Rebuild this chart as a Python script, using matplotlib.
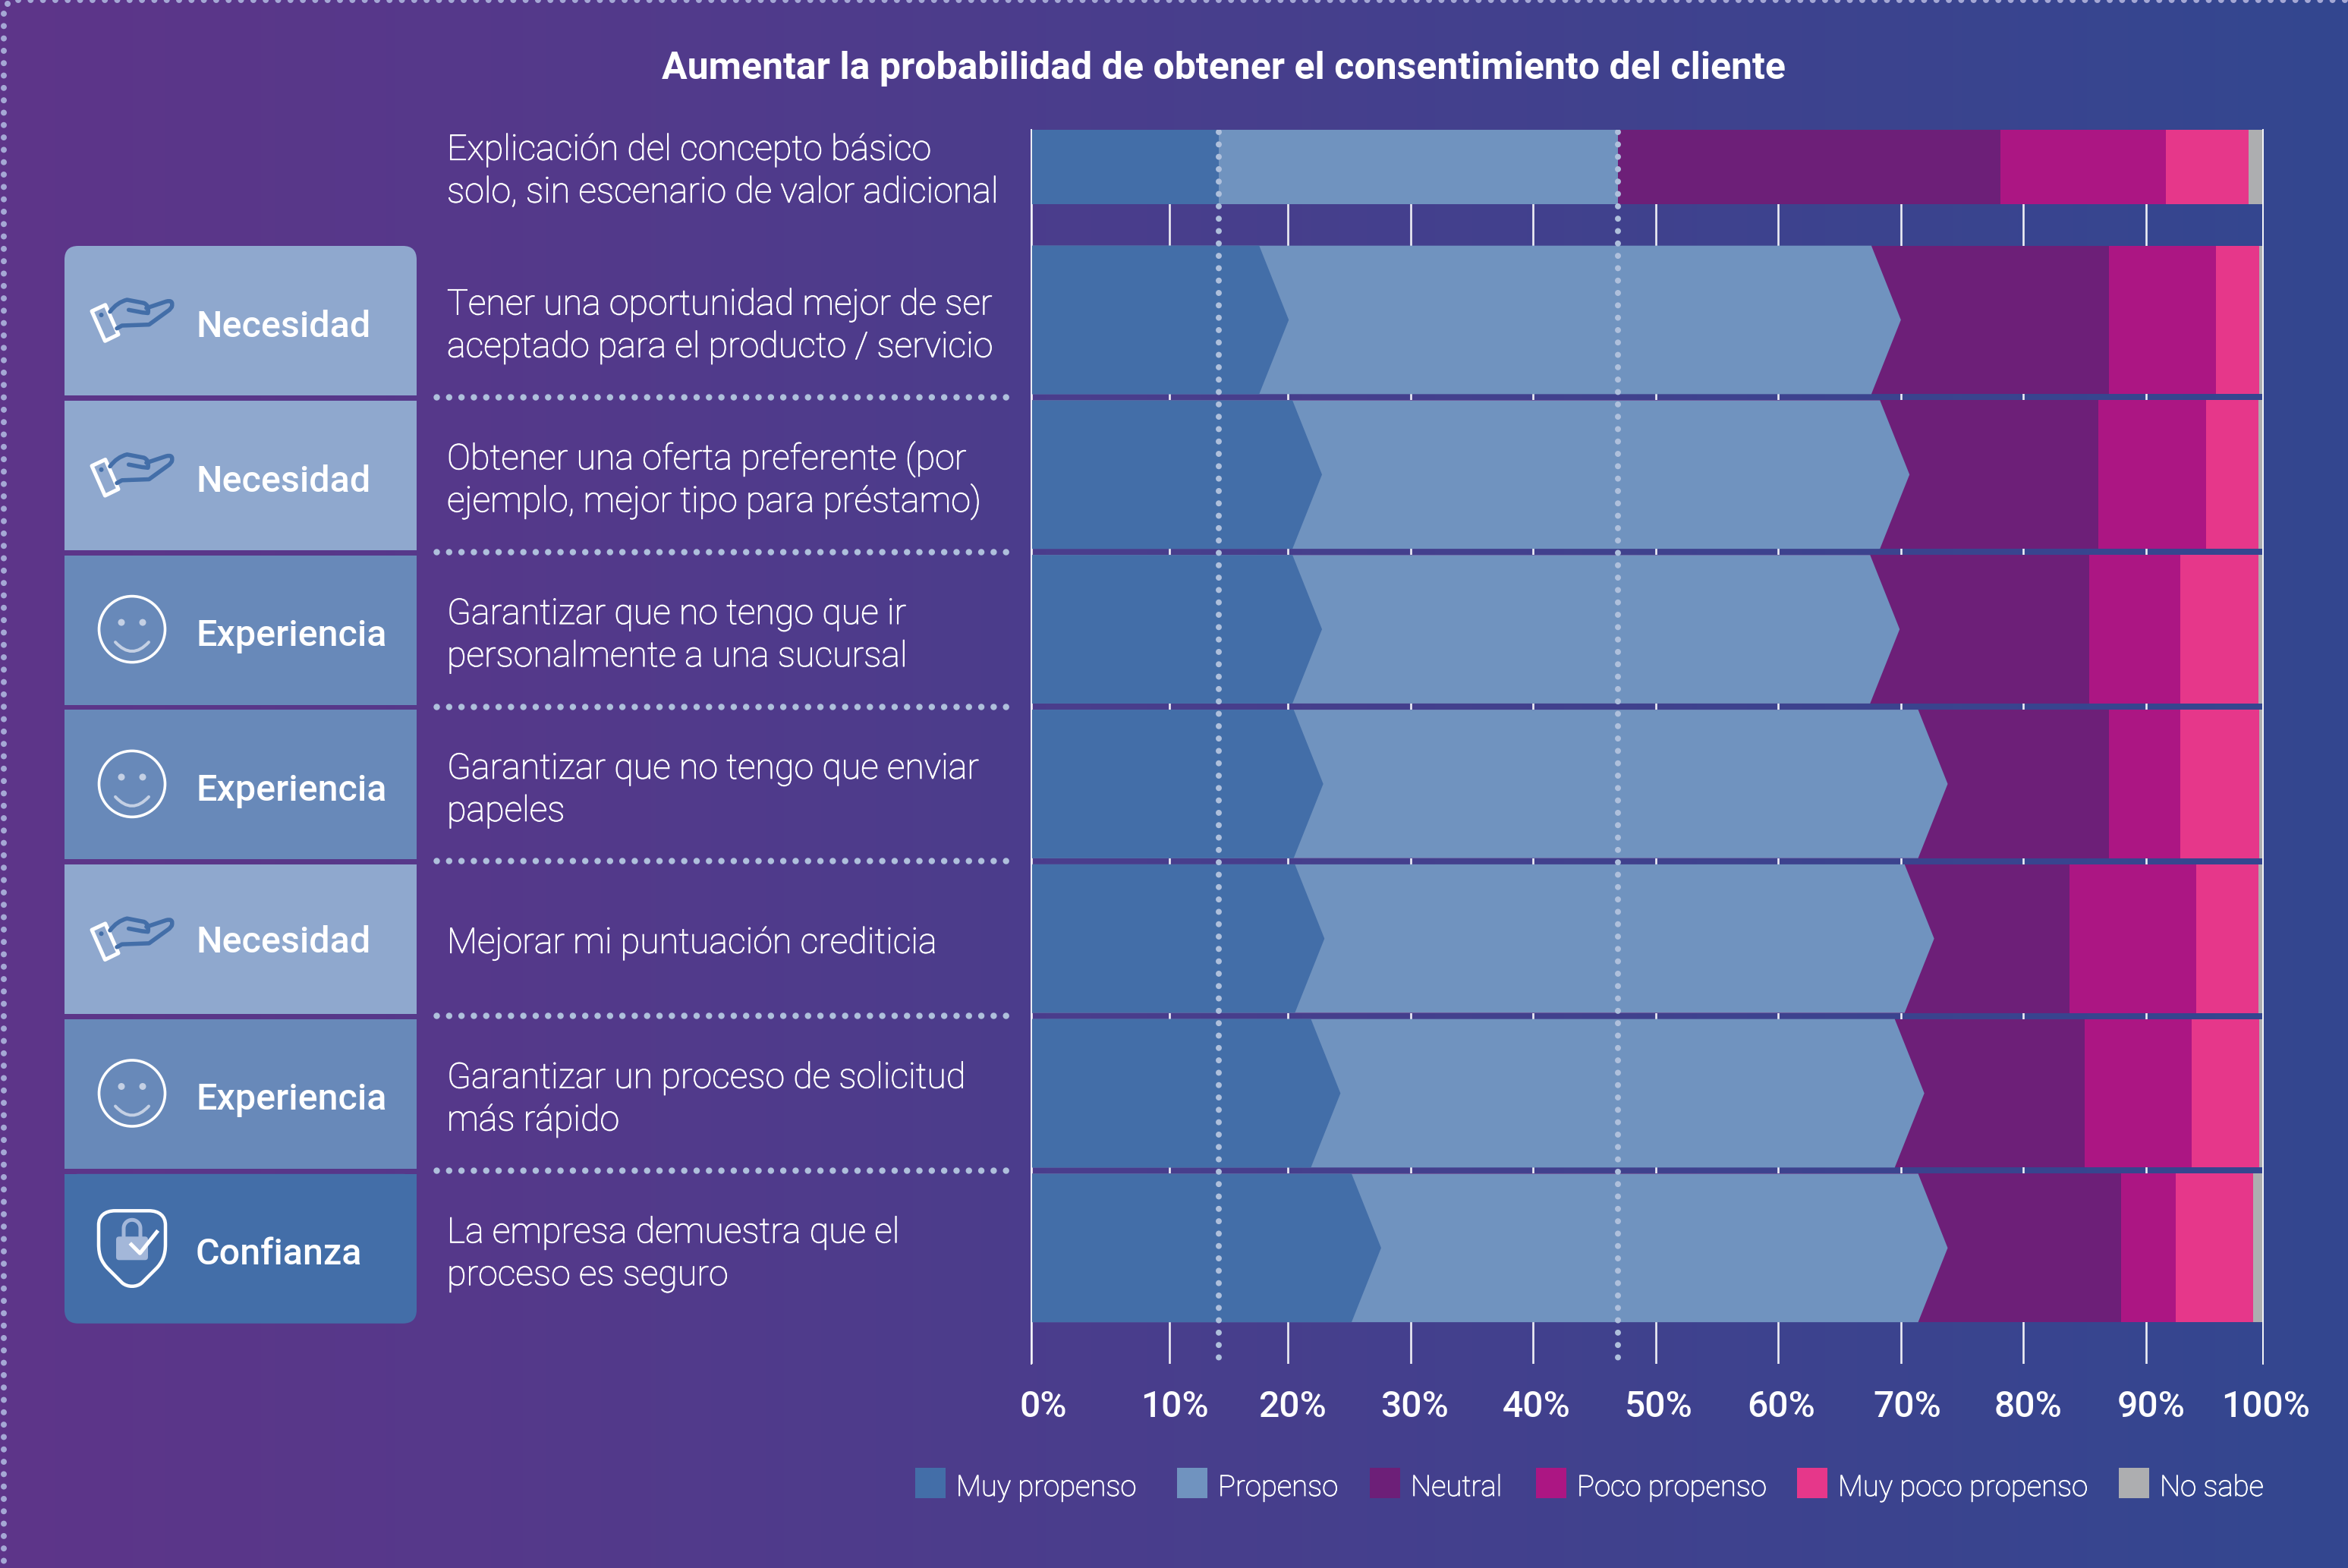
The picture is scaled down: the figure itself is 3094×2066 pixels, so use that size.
import numpy as np
import matplotlib
matplotlib.use('Agg')
import matplotlib.pyplot as plt
import matplotlib.patheffects as pe
from matplotlib.patches import Rectangle, FancyBboxPatch, Circle, Polygon, PathPatch
from matplotlib.path import Path
from matplotlib.transforms import ScaledTranslation

TITLE = "Aumentar la probabilidad de obtener el consentimiento del cliente"

row_labels = [
    "Explicación del concepto básico\nsolo, sin escenario de valor adicional",
    "Tener una oportunidad mejor de ser\naceptado para el producto / servicio",
    "Obtener una oferta preferente (por\nejemplo, mejor tipo para préstamo)",
    "Garantizar que no tengo que ir\npersonalmente a una sucursal",
    "Garantizar que no tengo que enviar\npapeles",
    "Mejorar mi puntuación crediticia",
    "Garantizar un proceso de solicitud\nmás rápido",
    "La empresa demuestra que el\nproceso es seguro",
]
row_groups = [None, "Necesidad", "Necesidad", "Experiencia", "Experiencia",
              "Necesidad", "Experiencia", "Confianza"]

muy_propenso = [15.2, 18.5, 21.2, 21.2, 21.3, 21.4, 22.7, 26.0]
propenso = [32.4, 49.7, 47.7, 46.9, 50.7, 49.5, 47.4, 46.0]
neutral = [31.1, 19.3, 17.7, 17.8, 15.5, 13.4, 15.4, 16.5]
poco_propenso = [13.4, 8.7, 8.8, 7.4, 5.8, 10.3, 8.7, 4.4]
muy_poco_propenso = [6.7, 3.5, 4.2, 6.3, 6.4, 5.0, 5.5, 6.3]
no_sabe = [1.2, 0.4, 0.4, 0.4, 0.3, 0.4, 0.4, 0.9]

series_names = ["Muy propenso", "Propenso", "Neutral", "Poco propenso",
                "Muy poco propenso", "No sabe"]
series_colors = ["#436EA8", "#7093BF", "#6D1F78", "#AC1683", "#E6378A", "#ADAEB0"]

# the axis marks are not evenly spaced along the bars
tick_positions = [0, 11.2, 20.8, 30.8, 40.7, 50.7, 60.6, 70.6, 80.5, 90.5, 100]
tick_labels = ["0%", "10%", "20%", "30%", "40%", "50%", "60%", "70%", "80%", "90%", "100%"]
tick_nudge_px = [16, 7, 6, 5, 5, 4, 5, 8, 7, 7, 4]

group_colors = {"Necesidad": "#8FA8CE", "Experiencia": "#6889B9", "Confianza": "#436EA8"}
# small per-row shift of the group names
group_text_nudge = [0, 2, 3, 2, 2, -2, 1, 2]

W, H = 3094, 2066
DPI = 100
PX = 72 / DPI  # points per pixel

AXIS_LEFT, AXIS_RIGHT = 1359, 2982
AXIS_TOP, AXIS_BOTTOM = 171, 1797
ROW0_Y, ROW_PITCH = 217.7, 203.8
CHEVRON = 2.4  # tip length in axis percent

TEXT_FONT = ['Roboto', 'DejaVu Sans']
DOT = "#AFC0DC"
# light weight needs a little body to stay legible on the dark ground
BODY = [pe.withStroke(linewidth=0.9 * PX, foreground='white')]


def row_y(i):
    return ROW0_Y + i * ROW_PITCH


def dotted(ax, xs, ys, color=DOT, size=8, pitch=16.3, zorder=5):
    lw = size * PX
    ax.plot(xs, ys, color=color, lw=lw, linestyle=(0, (0.001, pitch / size)),
            dash_capstyle='round', zorder=zorder, scalex=False, scaley=False)


def draw_hand(ax, cy):
    y = lambda v: cy + v
    card = [(121, y(-11.5)), (138.8, y(-19.8)), (156, y(19.2)), (138.4, y(27.8))]
    ax.add_patch(Polygon(card, closed=True, fill=False, ec='white', lw=5 * PX, joinstyle='round', zorder=3))
    ax.add_patch(Circle((133.5, y(-6.5)), 3, fc='#436EA8', ec='none', zorder=3))
    finger = Path([(145, y(-10.8)), (154, y(-23.2)), (167.4, y(-26.5)), (189.7, y(-22.2)),
                   (197, y(-19)), (195, y(-9)), (187.5, y(-9.8)), (169.6, y(-13.2))],
                  [Path.MOVETO, Path.CURVE3, Path.CURVE3, Path.LINETO,
                   Path.CURVE3, Path.CURVE3, Path.LINETO, Path.LINETO])
    palm = Path([(192.9, y(-15.5)), (218.8, y(-24.2)), (229, y(-27)), (226.3, y(-17)), (223.2, y(-13.2)),
                 (196.4, y(6.2)), (160.7, y(7.5)), (154, y(11.2))],
                [Path.MOVETO, Path.LINETO, Path.CURVE3, Path.CURVE3, Path.LINETO,
                 Path.LINETO, Path.LINETO, Path.LINETO])
    for p in (finger, palm):
        ax.add_patch(PathPatch(p, fill=False, ec='#436EA8', lw=5.5 * PX, capstyle='round', joinstyle='round', zorder=3))


def draw_smile(ax, cy):
    cx = 174
    soft = "#C4D0E4"
    ax.add_patch(Circle((cx, cy), 43.5, fill=False, ec='white', lw=3.6 * PX, zorder=3))
    for dx in (-14, 14):
        ax.add_patch(Circle((cx + dx, cy - 9), 4.5, fc=soft, ec='none', zorder=3))
    mouth = Path([(cx - 22, cy + 17), (cx, cy + 41), (cx + 22, cy + 17)],
                 [Path.MOVETO, Path.CURVE3, Path.CURVE3])
    ax.add_patch(PathPatch(mouth, fill=False, ec=soft, lw=4 * PX, capstyle='round', zorder=3))


def draw_shield(ax, cy):
    cx = 174
    verts = [(22, -49), (36, -49), (44, -42), (44, -30), (44, -5),
             (44, 10), (40, 18), (33, 26), (13, 46),
             (6, 52), (-6, 52), (-13, 46), (-33, 26),
             (-40, 18), (-44, 10), (-44, -5), (-44, -30),
             (-44, -42), (-36, -49), (-22, -49), (22, -49)]
    codes = [Path.MOVETO, Path.CURVE4, Path.CURVE4, Path.CURVE4, Path.LINETO,
             Path.CURVE4, Path.CURVE4, Path.CURVE4, Path.LINETO,
             Path.CURVE4, Path.CURVE4, Path.CURVE4, Path.LINETO,
             Path.CURVE4, Path.CURVE4, Path.CURVE4, Path.LINETO,
             Path.CURVE4, Path.CURVE4, Path.CURVE4, Path.CLOSEPOLY]
    shield = Path([(cx + a, cy + b) for a, b in verts], codes)
    ax.add_patch(PathPatch(shield, fill=False, ec='white', lw=4.5 * PX, joinstyle='round', zorder=3))
    lock = "#A3B7D9"
    ax.add_patch(FancyBboxPatch((cx - 18, cy - 12), 36, 25, boxstyle="round,pad=3,rounding_size=4",
                                fc=lock, ec='none', zorder=3))
    ang = np.radians(np.linspace(180, 360, 30))
    sx = np.r_[cx - 11, cx + 11 * np.cos(ang), cx + 11]
    sy = np.r_[cy - 14, cy - 26 + 11 * np.sin(ang), cy - 14]
    ax.plot(sx, sy, color=lock, lw=5 * PX, zorder=3, scalex=False, scaley=False)
    ax.plot([cx - 1, cx + 10.4, cx + 32.6], [cy - 4.5, cy + 7, cy - 21], color='white',
            lw=5 * PX, zorder=4, scalex=False, scaley=False)


icon_drawers = {"Necesidad": draw_hand, "Experiencia": draw_smile, "Confianza": draw_shield}

fig = plt.figure(figsize=(W / DPI, H / DPI), dpi=DPI)

# page layer, laid out in pixels
page = fig.add_axes([0, 0, 1, 1], zorder=0)
gradient = np.linspace(0, 1, 512)[None, :, None]
left_rgb = np.array([94, 53, 137]) / 255
right_rgb = np.array([51, 71, 144]) / 255
page.imshow(left_rgb + gradient * (right_rgb - left_rgb), extent=(0, W, H, 0), aspect='auto', zorder=0)
page.set_xlim(0, W)
page.set_ylim(H, 0)
page.axis('off')

dotted(page, [5, 5], [18, H], color="#A5A8D5", zorder=1)
dotted(page, [24, W], [0, 0], color="#A5A8D5", zorder=1)
page.add_patch(Circle((10, 5), 4, fc="#A5A8D5", ec='none', zorder=1))

page.text(1612, 104, TITLE, ha='center', va='baseline', color='white', fontsize=50 * PX,
          fontweight='bold', family=TEXT_FONT)

BOX_LEFT, BOX_RIGHT = 85, 549
BOX_H = 197
for i, group in enumerate(row_groups):
    cy = row_y(i)
    lines = row_labels[i].split("\n")
    offsets = [19] if len(lines) == 1 else [-7, 49]
    for line, off in zip(lines, offsets):
        page.text(589, cy + off, line, color='white', fontsize=46.6 * PX, fontweight='light',
                  family=TEXT_FONT, path_effects=BODY)
    if 0 < i < len(row_groups) - 1:
        dotted(page, [575, 1336], [cy + 101.5, cy + 101.5], size=8.5, zorder=2)
    if group is None:
        continue
    top = cy - 97.5
    col = group_colors[group]
    if i == 1 or i == len(row_groups) - 1:
        # outer corners of the column are rounded
        r = 18
        page.add_patch(FancyBboxPatch((BOX_LEFT + r, top + r), BOX_RIGHT - BOX_LEFT - 2 * r, BOX_H - 2 * r,
                                      boxstyle=f"round,pad={r},rounding_size={r}", fc=col, ec='none', zorder=2))
        flat_top = top + BOX_H / 2 if i == 1 else top
        page.add_patch(Rectangle((BOX_LEFT, flat_top), BOX_RIGHT - BOX_LEFT, BOX_H / 2, fc=col, ec='none', zorder=2))
    else:
        page.add_patch(Rectangle((BOX_LEFT, top), BOX_RIGHT - BOX_LEFT, BOX_H, fc=col, ec='none', zorder=2))
    icon_drawers[group](page, cy)
    page.text(258, cy + 20 + group_text_nudge[i], group, color='white', fontsize=48.5 * PX, fontweight='medium',
              family=TEXT_FONT, zorder=4)

# legend row
legend_x = [1206, 1551, 1805, 2024, 2368, 2792]
for x0, name, col in zip(legend_x, series_names, series_colors):
    page.add_patch(Rectangle((x0, 1934), 40, 40, fc=col, ec='none', zorder=2))
    page.text(x0 + 54, 1971, name, color='white', fontsize=38.3 * PX, fontweight='light',
              family=TEXT_FONT, path_effects=BODY)

# stacked bars, on a percent axis
ax = fig.add_axes([AXIS_LEFT / W, 1 - AXIS_BOTTOM / H, (AXIS_RIGHT - AXIS_LEFT) / W, (AXIS_BOTTOM - AXIS_TOP) / H],
                  zorder=1)
ax.patch.set_alpha(0)
ax.set_xlim(0, 100)
ax.set_ylim((AXIS_BOTTOM - ROW0_Y) / ROW_PITCH, (AXIS_TOP - ROW0_Y) / ROW_PITCH)
for s in ax.spines.values():
    s.set_visible(False)
ax.set_yticks([])
ax.set_xticks(tick_positions, tick_labels, fontsize=48 * PX, fontweight='medium', color='white', family=TEXT_FONT)
ax.tick_params(axis='x', length=0, pad=34 * PX)
ax.grid(axis='x', color='white', lw=2.6 * PX, alpha=0.92)
ax.set_axisbelow(True)
for lab, nudge in zip(ax.get_xticklabels(), tick_nudge_px):
    lab.set_transform(lab.get_transform() + ScaledTranslation(nudge / DPI, 0, fig.dpi_scale_trans))

series = np.array([muy_propenso, propenso, neutral, poco_propenso, muy_poco_propenso, no_sabe])
edges = np.cumsum(series, axis=0)
for i in range(series.shape[1]):
    half = 0.24 if i == 0 else 0.48
    yc = 0.01 if i == 0 else i
    # right-most segment first, each one overlaps the next one's left edge
    for s in range(series.shape[0] - 1, -1, -1):
        edge = min(edges[s, i], 100)
        tip = edge + CHEVRON if (i > 0 and s < 2) else edge
        if s == series.shape[0] - 1:
            edge = tip = 100
        ax.fill([0, edge, tip, edge, 0], [yc - half, yc - half, yc, yc + half, yc + half],
                color=series_colors[s], lw=0, zorder=2)

# thin axis ends stay visible over the bars
for v in (0, 100):
    ax.axvline(v, color='white', lw=2 * PX, alpha=0.9, zorder=3, clip_on=False)

ref_lines = [muy_propenso[0], muy_propenso[0] + propenso[0]]
for v in ref_lines:
    dotted(ax, [v, v], [(AXIS_TOP + 3 - ROW0_Y) / ROW_PITCH, (1793 - ROW0_Y) / ROW_PITCH])

fig.savefig("out.png", dpi=DPI)
